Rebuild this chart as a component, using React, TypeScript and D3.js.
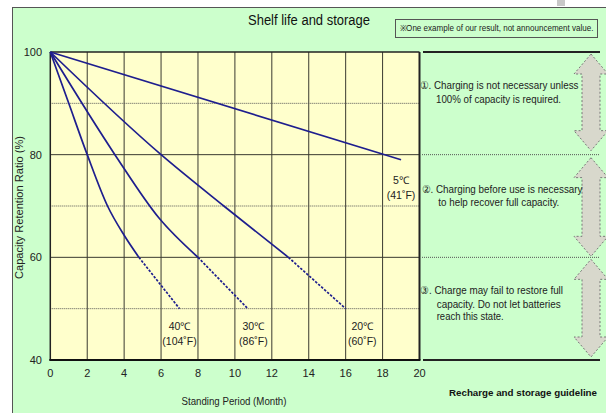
import React from "react";
import * as d3 from "d3";

const monthTicks = [0, 2, 4, 6, 8, 10, 12, 14, 16, 18, 20];
const ratioTicks = [40, 60, 80, 100];
const solidGrid = [60, 80];
const dottedGrid = [50, 70, 90];

const s5Solid: [number, number][] = [[0, 100], [19, 79]];
const s20Solid: [number, number][] = [[0, 100], [6, 80], [9.4, 70], [12.9, 60]];
const s20Dash: [number, number][] = [[12.9, 60], [16, 50]];
const s30Solid: [number, number][] = [[0, 100], [3.5, 80], [5.9, 67.6], [8, 60]];
const s30Dash: [number, number][] = [[8, 60], [10.7, 50]];
const s40Solid: [number, number][] = [[0, 100], [1, 90], [2, 80], [3.1, 70], [4, 64.3], [4.8, 60]];
const s40Dash: [number, number][] = [[4.8, 60], [7, 50]];

const tempLabels = [
  { x: 7, y: 46.7, l1: "40℃", l2: "(104˚F)" },
  { x: 11, y: 46.7, l1: "30℃", l2: "(86˚F)" },
  { x: 16.9, y: 46.7, l1: "20℃", l2: "(60˚F)" },
  { x: 19, y: 75.1, l1: "5℃", l2: "(41˚F)" },
];

const guideTexts = [
  { x: 419.5, y: 85, t: "①. Charging is not necessary unless", w: 159 },
  { x: 436, y: 99, t: "100% of capacity is required.", w: 125 },
  { x: 421.5, y: 188.5, t: "②. Charging before use is necessary", w: 161 },
  { x: 438.3, y: 202, t: "to help recover full capacity.", w: 121 },
  { x: 420, y: 289.5, t: "③. Charge may fail to restore full", w: 143 },
  { x: 436.7, y: 303.5, t: "capacity. Do not let batteries", w: 124 },
  { x: 436.7, y: 315.5, t: "reach this state.", w: 67 },
];

const FONT = "'Liberation Sans', Arial, sans-serif";

export default function App() {
  const x = d3.scaleLinear().domain([0, 20]).range([50.3, 419.5]);
  const y = d3.scaleLinear().domain([40, 100]).range([360, 52]);
  const line = d3
    .line<[number, number]>()
    .x((d) => x(d[0]))
    .y((d) => y(d[1]))
    .curve(d3.curveMonotoneX);
  const straight = d3
    .line<[number, number]>()
    .x((d) => x(d[0]))
    .y((d) => y(d[1]));

  const navy = "#1e1e8e";
  const gridCol = "#3a3a30";

  const arrow = (top: number, bot: number) => {
    const cx = 591, hw = 17, sw = 9, hl = 20;
    const p = [
      [cx, top], [cx + hw, top + hl], [cx + sw, top + hl], [cx + sw, bot - hl],
      [cx + hw, bot - hl], [cx, bot], [cx - hw, bot - hl], [cx - sw, bot - hl],
      [cx - sw, top + hl], [cx - hw, top + hl],
    ];
    return (
      <polygon
        points={p.map((q) => q.join(",")).join(" ")}
        fill="#d8d8cc"
        stroke="#777"
        strokeWidth={1}
        strokeDasharray="2,2"
      />
    );
  };

  return (
    <svg
      width={606}
      height={413}
      style={{ position: "absolute", left: 0, top: 0 }}
      fontFamily={FONT}
    >
      <rect x={0} y={0} width={606} height={413} fill="#ffffff" />
      <rect x={557} y={0} width={8} height={6} fill="#c8c8c8" />
      <rect x={12.5} y={7.5} width={600} height={420} fill="#ccffcc" stroke="#555" strokeWidth={1} />

      <text x={309} y={25} textAnchor="middle" fontSize={14} fill="#111" textLength={122} lengthAdjust="spacingAndGlyphs">
        Shelf life and storage
      </text>
      <rect x={395.5} y={19.5} width={202} height={18} fill="#ccffcc" stroke="#555" strokeWidth={1} />
      <text x={496.5} y={31} textAnchor="middle" fontSize={8.5} fill="#222" textLength={194} lengthAdjust="spacingAndGlyphs">
        ※One example of our result, not announcement value.
      </text>

      {/* plot area */}
      <rect x={x(0)} y={y(100)} width={x(20) - x(0)} height={y(40) - y(100)} fill="#ffffcc" />
      {monthTicks.slice(1, -1).map((m) => (
        <line key={"v" + m} x1={x(m)} x2={x(m)} y1={y(100)} y2={y(40)} stroke={gridCol} strokeWidth={1} />
      ))}
      {solidGrid.map((v) => (
        <line key={"s" + v} x1={x(0)} x2={x(20)} y1={y(v)} y2={y(v)} stroke={gridCol} strokeWidth={1} />
      ))}
      {dottedGrid.map((v) => (
        <line key={"d" + v} x1={x(0)} x2={x(20)} y1={y(v)} y2={y(v)} stroke="#555" strokeWidth={1} strokeDasharray="1,1" />
      ))}
      <line x1={x(0)} x2={x(20)} y1={y(100)} y2={y(100)} stroke="#222" strokeWidth={1.5} />
      <line x1={x(0)} x2={x(0)} y1={y(100)} y2={y(40)} stroke="#222" strokeWidth={1.5} />
      <line x1={x(20)} x2={x(20)} y1={y(100)} y2={y(40)} stroke="#222" strokeWidth={2} />
      <line x1={x(0) - 1} x2={x(20) + 1} y1={y(40)} y2={y(40)} stroke="#111" strokeWidth={2} />

      {/* series */}
      {[s40Solid, s30Solid, s20Solid].map((s, i) => (
        <path key={"ls" + i} d={line(s) || ""} fill="none" stroke={navy} strokeWidth={1.7} />
      ))}
      <path d={straight(s5Solid) || ""} fill="none" stroke={navy} strokeWidth={1.7} />
      {[s40Dash, s30Dash, s20Dash].map((s, i) => (
        <path key={"ld" + i} d={straight(s) || ""} fill="none" stroke={navy} strokeWidth={1.7} strokeDasharray="2.5,1.5" />
      ))}

      {tempLabels.map((l, i) => (
        <g key={"t" + i} fontSize={10.5} fill="#222" textAnchor="middle">
          <text x={x(l.x)} y={y(l.y) + 4}>{l.l1}</text>
          <text x={x(l.x)} y={y(l.y) + 19.5}>{l.l2}</text>
        </g>
      ))}

      {/* axes labels */}
      {ratioTicks.map((v) => (
        <text key={"yt" + v} x={42} y={y(v) + 4} textAnchor="end" fontSize={11} fill="#222">
          {v}
        </text>
      ))}
      {monthTicks.map((m) => (
        <text key={"xt" + m} x={x(m)} y={377} textAnchor="middle" fontSize={11} fill="#222">
          {m}
        </text>
      ))}
      <text x={234} y={404.5} textAnchor="middle" fontSize={10.5} fill="#222" textLength={105} lengthAdjust="spacingAndGlyphs">
        Standing Period (Month)
      </text>
      <text
        transform={`translate(23,207.5) rotate(-90)`}
        textAnchor="middle"
        fontSize={11}
        fill="#222"
        textLength={143}
        lengthAdjust="spacingAndGlyphs"
      >
        Capacity Retention Ratio (%)
      </text>

      {/* guideline panel */}
      <line x1={423} x2={600} y1={y(100)} y2={y(100)} stroke="#222" strokeWidth={2} />
      <line x1={422} x2={600} y1={y(80)} y2={y(80)} stroke="#555" strokeWidth={1} strokeDasharray="1,1" />
      <line x1={422} x2={600} y1={y(60)} y2={y(60)} stroke="#555" strokeWidth={1} strokeDasharray="1,1" />
      <line x1={423} x2={600} y1={y(40)} y2={y(40)} stroke="#222" strokeWidth={2} />
      {arrow(y(100) + 2, y(80) - 4)}
      {arrow(y(80) + 3, y(60) - 1)}
      {arrow(y(60) + 2, y(40) - 3)}
      {guideTexts.map((g, i) => (
        <text key={"g" + i} x={g.x} y={g.y + 4} fontSize={11} fill="#222" textLength={g.w} lengthAdjust="spacingAndGlyphs">
          {g.t}
        </text>
      ))}
      <text x={523} y={395.5} textAnchor="middle" fontSize={9.5} fontWeight="bold" fill="#111" textLength={148} lengthAdjust="spacingAndGlyphs">
        Recharge and storage guideline
      </text>
    </svg>
  );
}
